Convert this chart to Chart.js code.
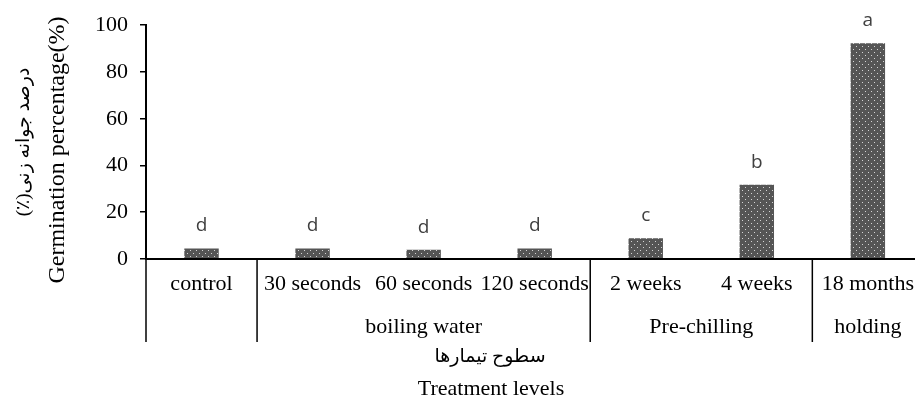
<!DOCTYPE html>
<html>
<head>
<meta charset="utf-8">
<script src="https://cdn.jsdelivr.net/npm/chart.js@4.4.1/dist/chart.umd.min.js"></script>
<style>
html,body{margin:0;padding:0;background:#fff;overflow:hidden;}
</style>
</head>
<body>
<canvas id="chart" width="926" height="407"></canvas>
<script>
// data
const categories = ['control','30 seconds','60 seconds','120 seconds','2 weeks','4 weeks','18 months'];
const groupLabels = ['', 'boiling water', 'Pre-chilling', 'holding'];
const groupSizes = [1, 3, 2, 1];
const germination = [4.5, 4.5, 4.0, 4.5, 8.9, 31.8, 92.3];
const letters = ['d','d','d','d','c','b','a'];
const yTicks = [0, 20, 40, 60, 80, 100];
const yTitle = ['درصد جوانه زنی(٪)', 'Germination percentage(%)'];
const xTitle = ['سطوح تیمارها', 'Treatment levels'];

const SERIF = '"Liberation Serif", "DejaVu Sans"';

const canvas = document.getElementById('chart');
const ctx = canvas.getContext('2d');

// dotted fill like the original bars
function dotPattern(){
  const c = document.createElement('canvas');
  c.width = 6; c.height = 6;
  const g = c.getContext('2d');
  g.fillStyle = '#555'; g.fillRect(0,0,6,6);
  g.fillStyle = '#d4d4d4';
  g.fillRect(1,1,1,1);
  g.fillRect(4,4,1,1);
  return ctx.createPattern(c,'repeat');
}

const decor = {
  id:'decor',
  afterDatasetsDraw(chart){
    const c = chart.ctx;
    const meta = chart.getDatasetMeta(0);
    c.save();
    c.font = '19px "Open Sans"';
    c.fillStyle = '#404040';
    c.textAlign = 'center';
    c.textBaseline = 'alphabetic';
    meta.data.forEach((bar,i)=>c.fillText(letters[i], bar.x, bar.y-17));
    c.restore();
  },
  afterDraw(chart){
    const c = chart.ctx;
    const x = chart.scales.x;
    const area = chart.chartArea;
    const half = (x.getPixelForValue(1)-x.getPixelForValue(0))/2;
    c.save();
    c.strokeStyle = '#000';
    c.lineWidth = 1.5;
    c.fillStyle = '#000';
    c.font = '22px ' + SERIF;
    c.textAlign = 'center';
    c.textBaseline = 'alphabetic';
    let idx = 0;
    groupSizes.forEach((n,gi)=>{
      const left = x.getPixelForValue(idx)-half;
      c.beginPath(); c.moveTo(left, area.bottom); c.lineTo(left, area.bottom+83); c.stroke();
      const mid = (x.getPixelForValue(idx)+x.getPixelForValue(idx+n-1))/2;
      if (groupLabels[gi]) c.fillText(groupLabels[gi], mid, 333);
      idx += n;
    });
    const right = x.getPixelForValue(idx-1)+half;
    c.beginPath(); c.moveTo(right, area.bottom); c.lineTo(right, area.bottom+83); c.stroke();

    // x titles
    c.direction = 'rtl';
    c.font = '19px ' + SERIF;
    c.fillText(xTitle[0], 490, 362);
    c.direction = 'ltr';
    c.font = '22px ' + SERIF;
    c.fillText(xTitle[1], 491, 395);

    // y titles
    c.save();
    c.translate(29, 142);
    c.rotate(-Math.PI/2);
    c.direction = 'rtl';
    c.font = '19px ' + SERIF;
    c.fillText(yTitle[0], 0, 0);
    c.restore();
    c.save();
    c.translate(64, 150);
    c.rotate(-Math.PI/2);
    c.font = '24px ' + SERIF;
    c.fillText(yTitle[1], 0, 0);
    c.restore();
    c.restore();
  }
};

new Chart(ctx,{
  type:'bar',
  data:{
    labels:categories,
    datasets:[{data:germination, backgroundColor:dotPattern(), borderWidth:0, barPercentage:0.31, categoryPercentage:1}]
  },
  options:{
    responsive:false,
    animation:false,
    devicePixelRatio:1,
    layout:{padding:{top:25,left:0,right:0,bottom:0}},
    plugins:{legend:{display:false},tooltip:{enabled:false}},
    scales:{
      x:{
        ticks:{color:'#000',font:{family:SERIF,size:22},padding:12,maxRotation:0,autoSkip:false},
        grid:{display:false,drawTicks:false},
        border:{color:'#000',width:2,z:1},
        afterFit(s){s.height=148;}
      },
      y:{
        min:0,max:100,
        afterBuildTicks(s){s.ticks = yTicks.map(v=>({value:v}));},
        ticks:{color:'#000',font:{family:SERIF,size:22},padding:12},
        grid:{drawOnChartArea:false,drawTicks:true,tickLength:6,color:'#000',lineWidth:1.5},
        border:{color:'#000',width:2,z:1},
        afterFit(s){s.width=146;}
      }
    }
  },
  plugins:[decor]
});
</script>
</body>
</html>
